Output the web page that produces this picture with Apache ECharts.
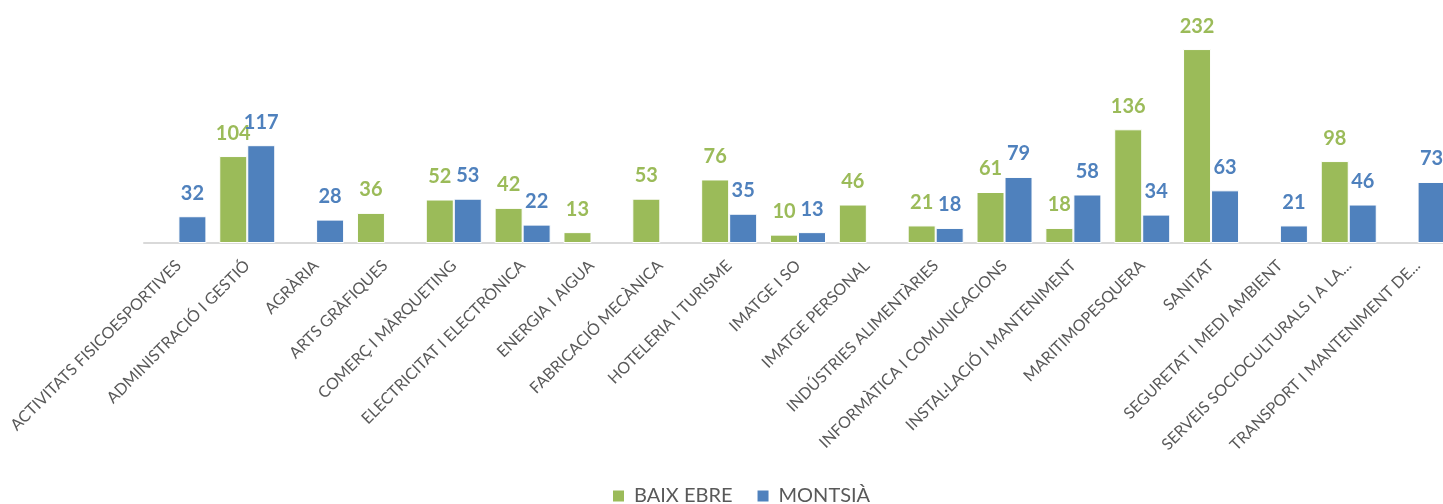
<!DOCTYPE html>
<html>
<head>
<meta charset="utf-8">
<script src="https://cdn.jsdelivr.net/npm/echarts@6/dist/echarts.min.js"></script>
<style>
  html, body { margin: 0; padding: 0; background: #fff; }
  #chart { width: 1443px; height: 504px; }
</style>
</head>
<body>
<div id="chart"></div>
<script>
// Families (uppercase labels as displayed)
const categories = [
  'ACTIVITATS FISICOESPORTIVES',
  'ADMINISTRACIÓ I GESTIÓ',
  'AGRÀRIA',
  'ARTS GRÀFIQUES',
  'COMERÇ I MÀRQUETING',
  'ELECTRICITAT I ELECTRÒNICA',
  'ENERGIA I AIGUA',
  'FABRICACIÓ MECÀNICA',
  'HOTELERIA I TURISME',
  'IMATGE I SO',
  'IMATGE PERSONAL',
  'INDÚSTRIES ALIMENTÀRIES',
  'INFORMÀTICA I COMUNICACIONS',
  'INSTAL·LACIÓ I MANTENIMENT',
  'MARITIMOPESQUERA',
  'SANITAT',
  'SEGURETAT I MEDI AMBIENT',
  'SERVEIS SOCIOCULTURALS I A LA...',
  'TRANSPORT I MANTENIMENT DE...'
];

// null = no students in that comarca
const baixEbre = [null, 104, null, 36, 52, 42, 13, 53, 76, 10, 46, 21, 61, 18, 136, 232, null, 98, null];
const montsia  = [32, 117, 28, null, 53, 22, null, null, 35, 13, null, 18, 79, 58, 34, 63, 21, 46, 73];

const seriesNames = ['BAIX EBRE', 'MONTSIÀ'];
const colors = ['#9BBB59', '#4F81BD'];

const FONT = 'Lato, "Open Sans", sans-serif';

function barSeries(name, data, color) {
  return {
    name: name,
    type: 'bar',
    data: data,
    barWidth: 28,
    barGap: '0%',
    itemStyle: { color: color, borderColor: '#ffffff', borderWidth: 1 },
    label: {
      show: true,
      position: 'top',
      distance: 13,
      color: color,
      fontFamily: FONT,
      fontWeight: 'bold',
      fontSize: 20
    }
  };
}

const chart = echarts.init(document.getElementById('chart'));
chart.setOption({
  animation: false,
  color: colors,
  // plot area runs slightly past the right edge of the canvas
  grid: {
    left: 144, width: 1308, top: 34, bottom: 261,
    containLabel: false, outerBoundsMode: 'none'
  },
  legend: {
    data: seriesNames,
    bottom: -7,
    left: 606,
    itemWidth: 13,
    itemHeight: 13,
    itemGap: 23,
    icon: 'rect',
    textStyle: { color: '#595959', fontFamily: FONT, fontSize: 20, padding: [0, 0, 0, 4] }
  },
  xAxis: {
    type: 'category',
    data: categories,
    axisLine: { lineStyle: { color: '#d9d9d9', width: 2 } },
    axisTick: { show: false },
    axisLabel: {
      interval: 0,
      rotate: 45,
      margin: 20,
      color: '#595959',
      fontFamily: FONT,
      fontSize: 16
    }
  },
  yAxis: {
    type: 'value',
    min: 0,
    max: 250,
    show: false,
    splitLine: { show: false }
  },
  series: [
    barSeries(seriesNames[0], baixEbre, colors[0]),
    barSeries(seriesNames[1], montsia, colors[1])
  ]
});
</script>
</body>
</html>
